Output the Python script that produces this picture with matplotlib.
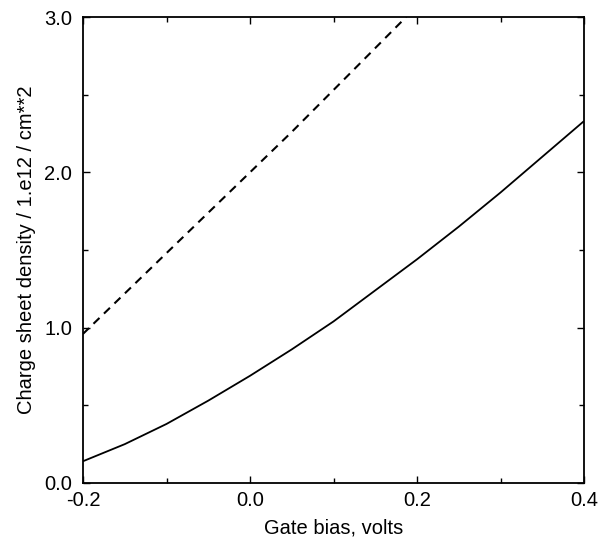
import matplotlib
matplotlib.use("Agg")
import matplotlib.pyplot as plt
from matplotlib.ticker import MultipleLocator

plt.rcParams['font.family'] = ['Liberation Sans', 'DejaVu Sans']

gate_solid = [-0.2, -0.15, -0.1, -0.05, 0.0, 0.05, 0.1, 0.15, 0.2, 0.25, 0.3, 0.35, 0.4]
density_solid = [0.14, 0.25, 0.38, 0.53, 0.69, 0.86, 1.04, 1.24, 1.44, 1.65, 1.87, 2.10, 2.33]

gate_dashed = [-0.2, -0.15, -0.1, -0.05, 0.0, 0.05, 0.1, 0.15, 0.187]
density_dashed = [0.96, 1.22, 1.48, 1.74, 2.0, 2.26, 2.53, 2.80, 3.0]

xticks = [-0.2, 0.0, 0.2, 0.4]
xticklabels = ["-0.2", "0.0", "0.2", "0.4"]
yticks = [0.0, 1.0, 2.0, 3.0]
yticklabels = ["0.0", "1.0", "2.0", "3.0"]

fig = plt.figure(figsize=(5.98, 5.45), dpi=100)
ax = fig.add_axes([0.1388, 0.1138, 0.9766 - 0.1388, 0.9688 - 0.1138])

ax.plot(gate_solid, density_solid, color='black', lw=1.3, solid_capstyle='butt')
ax.plot(gate_dashed, density_dashed, color='black', lw=1.5, dashes=(4.0, 3.0))

ax.set_xlim(-0.2, 0.4)
ax.set_ylim(0.0, 3.0)
ax.set_xticks(xticks)
ax.set_xticklabels(xticklabels)
ax.set_yticks(yticks)
ax.set_yticklabels(yticklabels)
ax.xaxis.set_minor_locator(MultipleLocator(0.1))
ax.yaxis.set_minor_locator(MultipleLocator(0.5))

ax.tick_params(which='both', direction='in', top=True, right=True, width=1.0, labelsize=14.5)
ax.tick_params(axis='x', which='major', pad=6)
ax.tick_params(axis='y', which='major', pad=8)
ax.tick_params(which='major', length=5)
ax.tick_params(which='minor', length=3.5)
for s in ax.spines.values():
    s.set_linewidth(1.3)

ax.set_xlabel("Gate bias, volts", fontsize=14.5, labelpad=6)
ax.set_ylabel("Charge sheet density / 1.e12 / cm**2", fontsize=14.5, labelpad=6)

fig.savefig("out.png", dpi=100)
